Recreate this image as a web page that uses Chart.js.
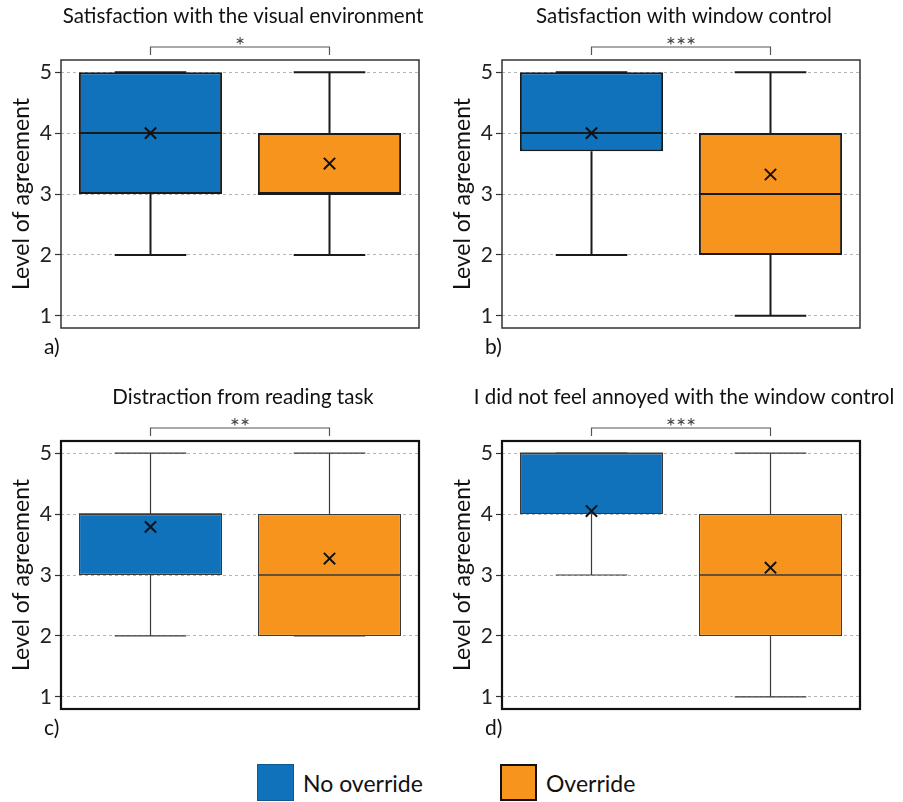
<!DOCTYPE html>
<html>
<head>
<meta charset="utf-8">
<title>Level of agreement: No override vs Override</title>
<script src="https://cdn.jsdelivr.net/npm/chart.js@4.4.1/dist/chart.umd.min.js"></script>
<style>
  body { margin: 0; background: #fff; width: 903px; height: 802px; position: relative; overflow: hidden; font-family: Lato, sans-serif; }
  .panel { position: absolute; }
  .key { position: absolute; top: 764px; display: flex; align-items: center; }
  .swatch { width: 37px; height: 37px; box-sizing: border-box; }
  .swatch--blue { background: #1072ba; border: 1px solid #0d5a93; }
  .swatch--orange { background: #f7941e; border: 2px solid #111; }
  .key span.lbl { font-size: 23px; color: #111; margin-left: 9px; }
</style>
</head>
<body>
<canvas class="panel" id="panel-a" width="450" height="370" style="left:0;top:0"></canvas>
<canvas class="panel" id="panel-b" width="462" height="370" style="left:441px;top:0"></canvas>
<canvas class="panel" id="panel-c" width="450" height="370" style="left:0;top:381px"></canvas>
<canvas class="panel" id="panel-d" width="462" height="370" style="left:441px;top:381px"></canvas>

<div class="key" style="left:257px"><div class="swatch swatch--blue"></div><span class="lbl">No override</span></div>
<div class="key" style="left:500px"><div class="swatch swatch--orange"></div><span class="lbl">Override</span></div>

<script>
  'use strict';

  // Groups and panels
  const groups = ['No override', 'Override'];
  const panelIds = ['panel-a', 'panel-b', 'panel-c', 'panel-d'];
  const panelTitles = [
    'Satisfaction with the visual environment',
    'Satisfaction with window control',
    'Distraction from reading task',
    'I did not feel annoyed with the window control'
  ];
  const panelStars = ['*', '***', '**', '***'];
  const panelLetters = ['a)', 'b)', 'c)', 'd)'];
  const yTicks = [1, 2, 3, 4, 5];

  // Box plot statistics per panel: [No override, Override]
  const mins    = [[2, 2],   [2, 1],    [2, 2],   [3, 1]];
  const q1s     = [[3, 3],   [3.7, 2],  [3, 2],   [4, 2]];
  const medians = [[4, 3],   [4, 3],    [4, 3],   [5, 3]];
  const q3s     = [[5, 4],   [5, 4],    [4, 4],   [5, 4]];
  const maxs    = [[5, 5],   [5, 5],    [5, 5],   [5, 5]];
  const means   = [[4.0, 3.5], [4.0, 3.32], [3.79, 3.27], [4.05, 3.12]];

  const colors = { blue: '#1072ba', orange: '#f7941e' };

  // Top row is drawn with heavier strokes than the bottom row
  const heavy = { box: 2, whisker: 2, median: 2, frame: 1.5, edge: '#1a1a1a', frameColor: '#333' };
  const light = { box: 1.2, whisker: 1.2, median: 1.6, frame: 2.2, edge: '#3a3a3a', frameColor: '#111' };

  const boxPlotExtras = {
    id: 'boxPlotExtras',
    afterDatasetDraw(chart, args, opts) {
      if (args.meta.type !== 'bar') return;
      const p = opts.panel;
      const s = opts.style;
      const { ctx } = chart;
      const y = chart.scales.y;
      ctx.save();
      ctx.strokeStyle = s.edge;
      args.meta.data.forEach((bar, j) => {
        const x = bar.x;
        const cap = bar.width / 4;
        const yMin = y.getPixelForValue(mins[p][j]);
        const yQ1 = y.getPixelForValue(q1s[p][j]);
        const yQ3 = y.getPixelForValue(q3s[p][j]);
        const yMax = y.getPixelForValue(maxs[p][j]);
        const yMed = y.getPixelForValue(medians[p][j]);

        // whiskers + caps
        ctx.lineWidth = s.whisker;
        ctx.beginPath();
        ctx.moveTo(x, yQ3); ctx.lineTo(x, yMax);
        ctx.moveTo(x, yQ1); ctx.lineTo(x, yMin);
        ctx.moveTo(x - cap, yMax); ctx.lineTo(x + cap, yMax);
        ctx.moveTo(x - cap, yMin); ctx.lineTo(x + cap, yMin);
        ctx.stroke();

        // median
        ctx.lineWidth = s.median;
        ctx.beginPath();
        ctx.moveTo(x - bar.width / 2, yMed);
        ctx.lineTo(x + bar.width / 2, yMed);
        ctx.stroke();
      });
      ctx.restore();
    },
    afterDraw(chart, args, opts) {
      const p = opts.panel;
      const s = opts.style;
      const { ctx, chartArea: area } = chart;
      const bars = chart.getDatasetMeta(1).data;
      const midX = (area.left + area.right) / 2;
      ctx.save();

      // plot frame
      ctx.strokeStyle = s.frameColor;
      ctx.lineWidth = s.frame;
      ctx.strokeRect(area.left, area.top, area.right - area.left, area.bottom - area.top);

      // panel title (may be wider than the plot, so drawn here)
      ctx.fillStyle = '#111';
      ctx.font = '20.5px Lato';
      ctx.textAlign = 'center';
      ctx.textBaseline = 'middle';
      ctx.fillText(panelTitles[p], midX + 3, area.top - 44);

      // significance bracket
      const yb = area.top - 13;
      ctx.strokeStyle = '#555';
      ctx.lineWidth = 1.2;
      ctx.beginPath();
      ctx.moveTo(bars[0].x, area.top - 5);
      ctx.lineTo(bars[0].x, yb);
      ctx.lineTo(bars[1].x, yb);
      ctx.lineTo(bars[1].x, area.top - 5);
      ctx.stroke();

      ctx.fillStyle = '#444';
      ctx.font = '24px Lato';
      ctx.textBaseline = 'alphabetic';
      ctx.fillText(panelStars[p], (bars[0].x + bars[1].x) / 2, area.top - 6);

      // panel letter
      ctx.fillStyle = '#111';
      ctx.font = '21px Lato';
      ctx.textAlign = 'left';
      ctx.fillText(panelLetters[p], area.left - 17, area.bottom + 26);
      ctx.restore();
    }
  };

  panelIds.forEach((id, i) => {
    const style = i < 2 ? heavy : light;
    const canvas = document.getElementById(id);
    new Chart(canvas, {
      type: 'bar',
      data: {
        labels: groups,
        datasets: [
          {
            type: 'line',
            label: 'Mean',
            data: means[i],
            showLine: false,
            pointStyle: 'crossRot',
            pointRadius: 8,
            pointBorderWidth: 2,
            pointBorderColor: '#111',
            borderColor: '#111',
            order: 1
          },
          {
            type: 'bar',
            label: 'Box',
            data: groups.map((g, j) => [q1s[i][j], q3s[i][j]]),
            backgroundColor: [colors.blue, colors.orange],
            borderColor: style.edge,
            borderWidth: style.box,
            borderSkipped: false,
            categoryPercentage: 1,
            barPercentage: 0.8,
            order: 2
          }
        ]
      },
      options: {
        responsive: false,
        animation: false,
        devicePixelRatio: 1,
        events: [],
        layout: { padding: { left: 0, right: canvas.width - 419, top: 60, bottom: 42 } },
        plugins: {
          legend: { display: false },
          tooltip: { enabled: false },
          title: { display: false },
          boxPlotExtras: { panel: i, style: style }
        },
        scales: {
          x: { display: false, offset: true },
          y: {
            min: 0.8,
            max: 5.2,
            afterBuildTicks: (scale) => { scale.ticks = yTicks.map((v) => ({ value: v })); },
            afterFit: (scale) => { scale.width = 61; },
            ticks: { color: '#222', font: { family: 'Lato', size: 21 }, padding: 3 },
            grid: { color: '#b5b5b5', lineWidth: 1, tickLength: 6, tickColor: '#333', tickWidth: 1.2, tickBorderDash: [] },
            border: { display: false, dash: [3, 3] },
            title: {
              display: true,
              text: 'Level of agreement',
              color: '#111',
              font: { family: 'Lato', size: 23 },
              padding: { top: 8, bottom: 0 }
            }
          }
        }
      },
      plugins: [boxPlotExtras]
    });
  });
</script>
</body>
</html>
